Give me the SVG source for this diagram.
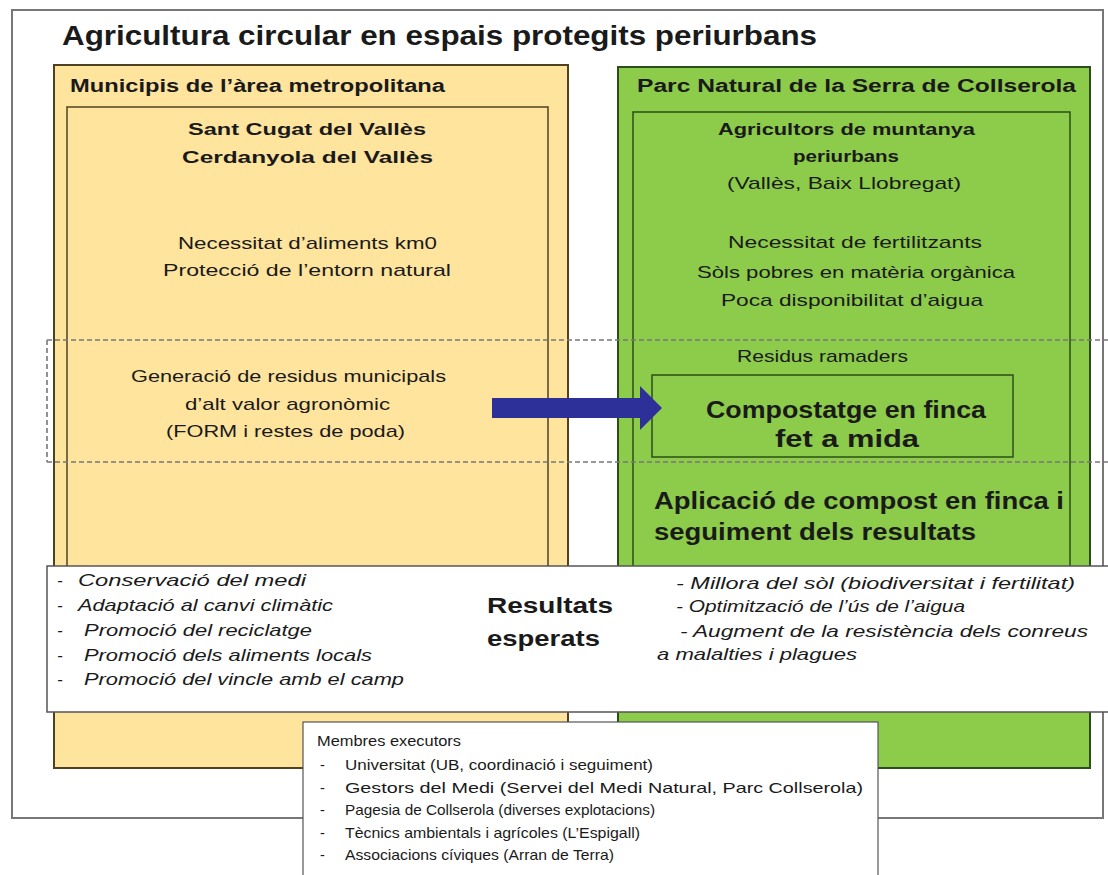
<svg xmlns="http://www.w3.org/2000/svg" width="1108" height="875" viewBox="0 0 1108 875">
<style>
text{font-family:"Liberation Sans",Arial,sans-serif;fill:#1a1a1a}
.b{font-weight:bold}
.i{font-style:italic}
.y{fill:#FFE49E;stroke:#4f4220;stroke-width:2}
.yi{fill:#FFE49E;stroke:#4f4220;stroke-width:1.5}
.g{fill:#8DCB4B;stroke:#2b4f1a;stroke-width:2}
.gi{fill:#8DCB4B;stroke:#2b4f1a;stroke-width:1.5}
.d{stroke:#777;stroke-width:1.6;stroke-dasharray:5 3;fill:none}
.s17{font-size:17px}
.s18{font-size:18px}
.s14{font-size:14.5px}
</style>
<rect x="12" y="10" width="1091" height="808" fill="#fff" stroke="#777" stroke-width="2"/>
<text x="62" y="45" class="b" font-size="27" textLength="755" lengthAdjust="spacingAndGlyphs">Agricultura circular en espais protegits periurbans</text>

<g id="municipis">
<rect class="y" x="54" y="65" width="514" height="703"/>
<text x="70" y="92" class="b s18" textLength="375" lengthAdjust="spacingAndGlyphs">Municipis de l’àrea metropolitana</text>
<rect class="yi" x="67" y="107" width="481" height="560"/>
<text x="188" y="135" class="b s17" textLength="238" lengthAdjust="spacingAndGlyphs">Sant Cugat del Vallès</text>
<text x="182" y="163" class="b s17" textLength="251" lengthAdjust="spacingAndGlyphs">Cerdanyola del Vallès</text>
<text x="178" y="249" class="s17" textLength="259" lengthAdjust="spacingAndGlyphs">Necessitat d’aliments km0</text>
<text x="163" y="276" class="s17" textLength="288" lengthAdjust="spacingAndGlyphs">Protecció de l’entorn natural</text>
<text x="131" y="382" class="s17" textLength="315" lengthAdjust="spacingAndGlyphs">Generació de residus municipals</text>
<text x="185" y="410" class="s17" textLength="205" lengthAdjust="spacingAndGlyphs">d’alt valor agronòmic</text>
<text x="166" y="437" class="s17" textLength="239" lengthAdjust="spacingAndGlyphs">(FORM i restes de poda)</text>
</g>

<g id="parc">
<rect class="g" x="618" y="67" width="472" height="701"/>
<text x="637" y="92" class="b s18" textLength="439" lengthAdjust="spacingAndGlyphs">Parc Natural de la Serra de Collserola</text>
<rect class="gi" x="633" y="112" width="437" height="555"/>
<text x="718" y="135" class="b s17" textLength="257" lengthAdjust="spacingAndGlyphs">Agricultors de muntanya</text>
<text x="793" y="162" class="b s17" textLength="106" lengthAdjust="spacingAndGlyphs">periurbans</text>
<text x="727" y="189" class="s17" textLength="234" lengthAdjust="spacingAndGlyphs">(Vallès, Baix Llobregat)</text>
<text x="728" y="248" class="s17" textLength="254" lengthAdjust="spacingAndGlyphs">Necessitat de fertilitzants</text>
<text x="697" y="278" class="s17" textLength="318" lengthAdjust="spacingAndGlyphs">Sòls pobres en matèria orgànica</text>
<text x="721" y="306" class="s17" textLength="262" lengthAdjust="spacingAndGlyphs">Poca disponibilitat d’aigua</text>
<text x="737" y="362" class="s17" textLength="171" lengthAdjust="spacingAndGlyphs">Residus ramaders</text>
<text x="654" y="509" class="b" font-size="23" textLength="410" lengthAdjust="spacingAndGlyphs">Aplicació de compost en finca i</text>
<text x="654" y="540" class="b" font-size="23" textLength="322" lengthAdjust="spacingAndGlyphs">seguiment dels resultats</text>
</g>

<g id="banda">
<path class="d" d="M47 340H1108M47 462H1108M47 340V462"/>
</g>

<g id="compostatge">
<rect class="gi" x="652" y="375" width="361" height="82"/>
<text x="706" y="418" class="b" font-size="23" textLength="280" lengthAdjust="spacingAndGlyphs">Compostatge en finca</text>
<text x="775" y="447" class="b" font-size="23" textLength="144" lengthAdjust="spacingAndGlyphs">fet a mida</text>
</g>

<g id="connectors">
<path d="M492 398H640V386L662 408L640 430V418H492Z" fill="#2E309A"/>
</g>

<g id="resultats">
<rect x="47" y="566" width="1063" height="146" fill="#fff" stroke="#555" stroke-width="1.5"/>
<text x="57" y="586" class="i s17">-</text>
<text x="78" y="586" class="i s17" textLength="228" lengthAdjust="spacingAndGlyphs">Conservació del medi</text>
<text x="57" y="611" class="i s17">-</text>
<text x="78" y="611" class="i s17" textLength="255" lengthAdjust="spacingAndGlyphs">Adaptació al canvi climàtic</text>
<text x="57" y="636" class="i s17">-</text>
<text x="84" y="636" class="i s17" textLength="228" lengthAdjust="spacingAndGlyphs">Promoció del reciclatge</text>
<text x="57" y="661" class="i s17">-</text>
<text x="84" y="661" class="i s17" textLength="288" lengthAdjust="spacingAndGlyphs">Promoció dels aliments locals</text>
<text x="57" y="685" class="i s17">-</text>
<text x="84" y="685" class="i s17" textLength="320" lengthAdjust="spacingAndGlyphs">Promoció del vincle amb el camp</text>
<text x="487" y="613" class="b" font-size="22" textLength="126" lengthAdjust="spacingAndGlyphs">Resultats</text>
<text x="487" y="646" class="b" font-size="22" textLength="113" lengthAdjust="spacingAndGlyphs">esperats</text>
<text x="676" y="589" class="i s17" textLength="399" lengthAdjust="spacingAndGlyphs">- Millora del sòl (biodiversitat i fertilitat)</text>
<text x="676" y="612" class="i s17" textLength="289" lengthAdjust="spacingAndGlyphs">- Optimització de l’ús de l’aigua</text>
<text x="680" y="637" class="i s17" textLength="408" lengthAdjust="spacingAndGlyphs">- Augment de la resistència dels conreus</text>
<text x="657" y="660" class="i s17" textLength="200" lengthAdjust="spacingAndGlyphs">a malalties i plagues</text>
</g>

<g id="membres">
<rect x="303" y="722" width="575" height="160" fill="#fff" stroke="#555" stroke-width="1.2"/>
<text x="317" y="746" class="s14" textLength="144" lengthAdjust="spacingAndGlyphs">Membres executors</text>
<text x="320" y="770" class="s14">-</text>
<text x="345" y="770" class="s14" textLength="308" lengthAdjust="spacingAndGlyphs">Universitat (UB, coordinació i seguiment)</text>
<text x="320" y="793" class="s14">-</text>
<text x="345" y="793" class="s14" textLength="518" lengthAdjust="spacingAndGlyphs">Gestors del Medi (Servei del Medi Natural, Parc Collserola)</text>
<text x="320" y="815" class="s14">-</text>
<text x="345" y="815" class="s14" textLength="310" lengthAdjust="spacingAndGlyphs">Pagesia de Collserola (diverses explotacions)</text>
<text x="320" y="838" class="s14">-</text>
<text x="345" y="838" class="s14" textLength="295" lengthAdjust="spacingAndGlyphs">Tècnics ambientals i agrícoles (L’Espigall)</text>
<text x="320" y="860" class="s14">-</text>
<text x="345" y="860" class="s14" textLength="269" lengthAdjust="spacingAndGlyphs">Associacions cíviques (Arran de Terra)</text>
</g>
</svg>
